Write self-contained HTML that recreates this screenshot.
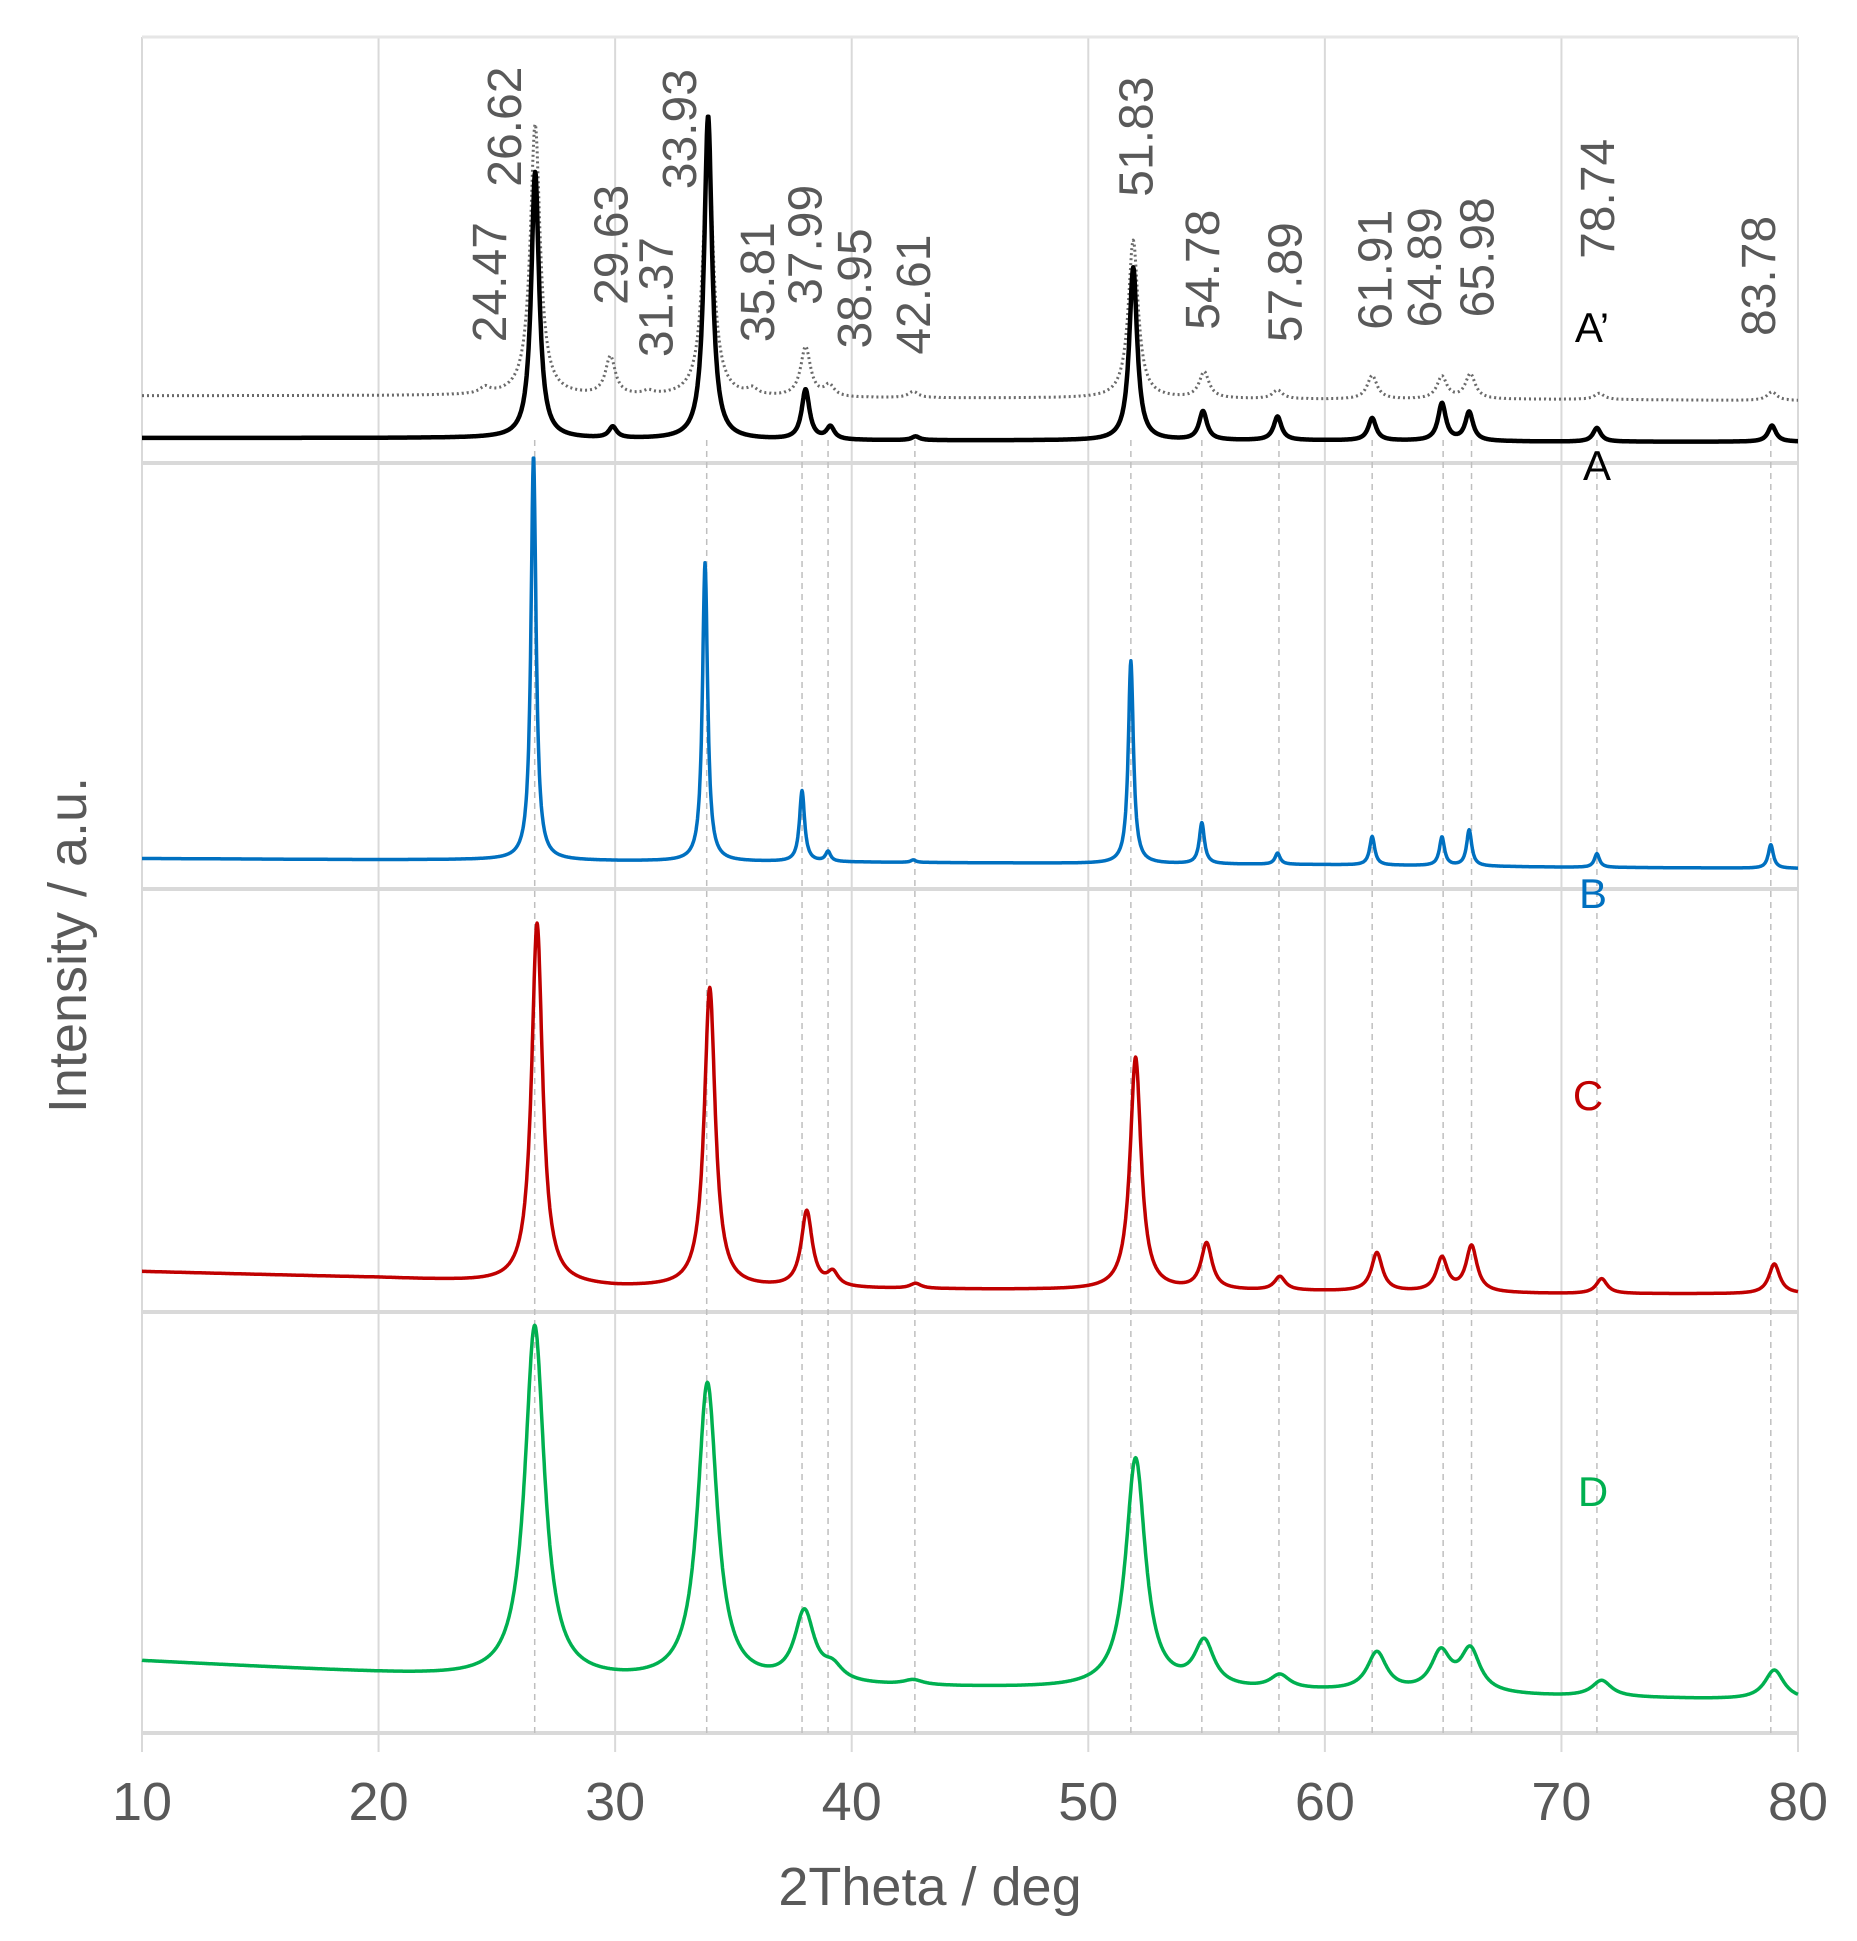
<!DOCTYPE html>
<html><head><meta charset="utf-8"><style>
html,body{margin:0;padding:0;background:#fff;}
svg{display:block;font-family:"Liberation Sans",sans-serif;}
</style></head><body>
<svg id="chart" width="1857" height="1941" viewBox="0 0 1857 1941" xmlns="http://www.w3.org/2000/svg"></svg>
<script>
// ---- data ----
const xTicks = [10,20,30,40,50,60,70,80];
const peakLines = [26.6,33.87,37.9,39.0,42.67,51.8,54.8,58.06,62.0,65.0,66.2,71.5,78.85];
const peakLabels = ["24.47","26.62","29.63","31.37","33.93","35.81","37.99","38.95","42.61","51.83","54.78","57.89","61.91","64.89","65.98","78.74","83.78"];
const peakLabelX = [24.66,25.3,29.8,31.7,32.7,36.0,38.0,40.1,42.6,52.0,54.8,58.3,62.1,64.2,66.4,71.5,78.3];
const peakLabelBase = [1122,1247,1152,1110,1245,1122,1152,1117,1112,1239,1132,1122,1132,1134,1142,1189,1127];
const bgX = [10,20,25,30,40,50,60,70,80];
const bgA = [1045,1045,1045,1044,1043,1043,1043,1042,1042];
const bgA2 = [1079,1079,1079,1078,1077,1077,1076,1076,1075];
const bgB = [707,706,706,705,704,703,702,700,699];
const bgC = [375,370,366,362,361,360,359,357,357];
const bgD = [62,52,47,45,41,39,37,33,30];
const posA = [26.62,29.9,33.93,38.05,39.1,42.7,51.9,54.85,58.0,62.0,64.95,66.1,71.5,78.9];
const hA   = [214,9,260,40,10,3,139,23,19,18,30,23,11,13];
const posA2 = [24.5,26.62,29.8,31.4,33.93,35.8,38.05,39.05,42.6,51.9,54.9,58.0,62.0,64.95,66.15,71.6,78.9];
const hA2   = [5,218,31,3,205,5,40,9,5,127,21,7,19,18,20,5,7];
const posB = [26.55,33.8,37.9,39.0,42.6,51.8,54.8,58.0,62.0,64.95,66.1,71.5,78.85];
const hB   = [325,240,57,8,2,163,33,9,23,23,29,11,19];
const posC = [26.7,34.0,38.1,39.2,42.7,52.0,55.0,58.1,62.2,64.95,66.2,71.7,79.0];
const hC   = [290,241,61,11,4,187,37,11,31,27,37,12,24];
const posD = [26.6,33.9,38.0,39.2,42.6,52.0,54.9,58.1,62.2,64.9,66.15,71.7,79.0];
const hD   = [284,240,56,11,4,185,36,11,31,31,34,13,24];

// ---- axes ----
const X0=142, X1=1798, YB=1738;
function xs(d){return X0+(d-10)*(X1-X0)/70;}
function ys(v){return YB - v*1.244;}
const svg=document.getElementById('chart');
const NS='http://www.w3.org/2000/svg';
function mk(tag,attrs,parent){const e=document.createElementNS(NS,tag);for(const k in attrs)e.setAttribute(k,attrs[k]);(parent||svg).appendChild(e);return e;}

xTicks.forEach(t=>{
  const l=mk('line',{x1:xs(t),x2:xs(t),y1:37,y2:1752,stroke:'#d9d9d9','stroke-width':2});
  
  
  const tx=mk('text',{x:xs(t),y:1820,'font-size':54,fill:'#595959','text-anchor':'middle'});
  tx.textContent=t;
  
  
});
mk('line',{x1:X0,x2:X1,y1:37,y2:37,stroke:'#e6e6e6','stroke-width':3});
[463,889,1312,1733].forEach(y=>{
  const l=mk('line',{x1:X0,x2:X1,y1:y,y2:y,stroke:'#d9d9d9','stroke-width':4});
  
  
});
peakLines.forEach(p=>{
  const l=mk('line',{x1:xs(p),x2:xs(p),y1:440,y2:1735,stroke:'#bfbfbf','stroke-width':1.5,'stroke-dasharray':'6 5'});
  
  
});

function interp(xa,ya,x){for(let i=0;i<xa.length-1;i++){if(x<=xa[i+1]){const f=(x-xa[i])/(xa[i+1]-xa[i]);return ya[i]+f*(ya[i+1]-ya[i]);}}return ya[ya.length-1];}
function curve(bg,pos,h,w){
  let d='';
  for(let x=10;x<=80.001;x+=0.02){
    let v=interp(bgX,bg,x);
    for(let i=0;i<pos.length;i++){const u=(x-pos[i])/w;v+=h[i]/(1+u*u);}
    d+=(d?'L':'M')+xs(x).toFixed(1)+' '+ys(v).toFixed(1);
  }
  return d;
}
const series=[
  {name:'series-a-prime',bg:bgA2,p:posA2,h:hA2,w:0.25,c:'#6a6a6a',sw:3,dash:'2 3'},
  {name:'series-a',bg:bgA,p:posA,h:hA,w:0.2,c:'#000',sw:4.5},
  {name:'series-b',bg:bgB,p:posB,h:hB,w:0.13,c:'#0070c0',sw:3.5},
  {name:'series-c',bg:bgC,p:posC,h:hC,w:0.28,c:'#c00000',sw:3.5},
  {name:'series-d',bg:bgD,p:posD,h:hD,w:0.5,c:'#00b050',sw:3.5}
];
series.forEach(s=>{
  const a={d:curve(s.bg,s.p,s.h,s.w),fill:'none',stroke:s.c,'stroke-width':s.sw,'stroke-linejoin':'round'};
  if(s.dash)a['stroke-dasharray']=s.dash;
  const el=mk('path',a);
  
  
});

peakLabels.forEach((t,i)=>{
  const x=xs(peakLabelX[i])+17, y=ys(peakLabelBase[i]);
  const el=mk('text',{x:x,y:y,transform:`rotate(-90 ${x} ${y})`,'font-size':48,fill:'#595959'});
  el.textContent=t;
  
  
});

[["A’",1592,342,'#000'],["A",1597,480,'#000'],["B",1593,908,'#0070c0'],["C",1588,1110,'#c00000'],["D",1593,1506,'#00b050']].forEach(l=>{
  const el=mk('text',{x:l[1],y:l[2],'font-size':42,fill:l[3],'text-anchor':'middle'});
  el.textContent=l[0];
  
  
});

const yt=mk('text',{x:0,y:0,transform:'translate(86 945) rotate(-90)','font-size':54,fill:'#595959','text-anchor':'middle'});
yt.textContent='Intensity / a.u.';


const xt=mk('text',{x:930,y:1905,'font-size':54,fill:'#595959','text-anchor':'middle'});
xt.textContent='2Theta / deg';


</script>
</body></html>
